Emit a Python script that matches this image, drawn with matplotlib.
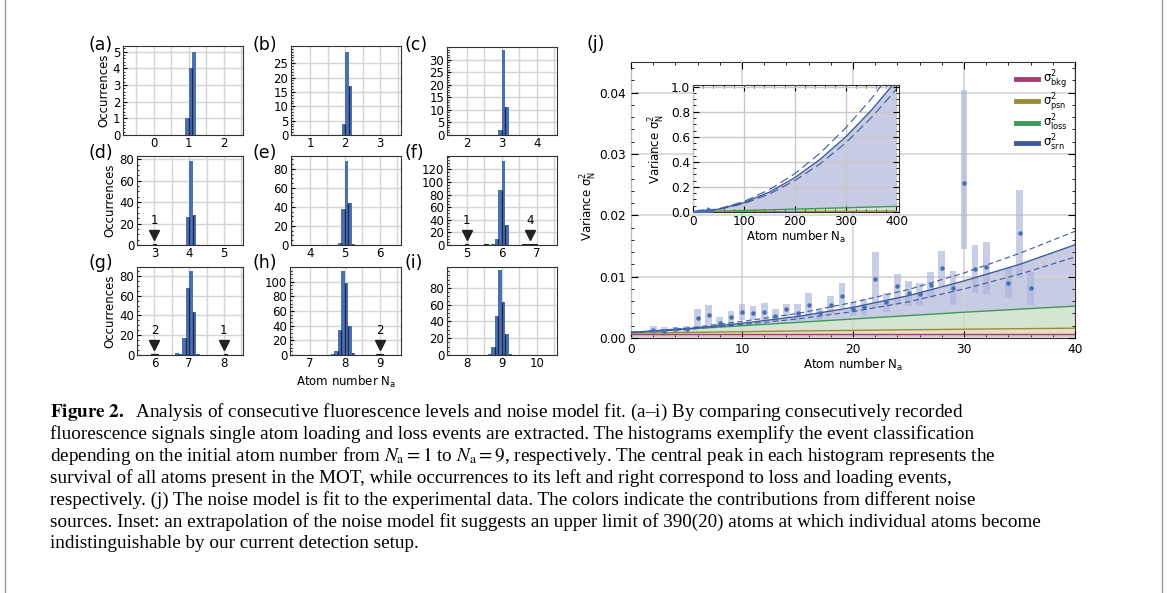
import numpy as np
import matplotlib
matplotlib.use("Agg")
import matplotlib.pyplot as plt
import matplotlib.transforms as mtransforms
from matplotlib.ticker import AutoMinorLocator, MultipleLocator, FormatStrFormatter
from matplotlib.lines import Line2D

plt.rcParams['font.family'] = ['DejaVu Sans']
plt.rcParams['font.size'] = 8.5

# ---- histograms (a)-(i): left bin edges (width 0.1) and counts
bins_a = [0.9, 1.0, 1.1]
counts_a = [1, 4, 5]
bins_b = [1.9, 2.0, 2.1]
counts_b = [4, 29, 17]
bins_c = [2.9, 3.0, 3.1]
counts_c = [2, 34, 11]
bins_d = [3.9, 4.0, 4.1]
counts_d = [26, 78, 28]
bins_e = [4.8, 4.9, 5.0, 5.1, 5.2]
counts_e = [2, 38, 88, 44, 1]
bins_f = [5.7, 5.8, 5.9, 6.0, 6.1]
counts_f = [1, 10, 87, 133, 32]
bins_g = [6.6, 6.7, 6.8, 6.9, 7.0, 7.1, 7.2]
counts_g = [2, 1, 17, 68, 85, 43, 1]
bins_h = [7.6, 7.7, 7.8, 7.9, 8.0, 8.1, 8.2]
counts_h = [1, 5, 34, 115, 98, 40, 3]
bins_i = [8.6, 8.7, 8.8, 8.9, 9.0, 9.1, 9.2]
counts_i = [1, 9, 47, 101, 63, 25, 1]

# loss / loading events (bin centres, counts) and their labels
events_x = {"d": [3.0], "f": [5.0, 5.55, 6.62, 6.75, 6.85, 6.95],
            "g": [5.95, 6.05, 8.05], "h": [8.95, 9.05]}
events_n = {"d": [1], "f": [1, 1, 1, 1, 1, 1], "g": [1, 1, 1], "h": [1, 1]}
marks_x = {"d": [3.0], "f": [5.0, 6.82], "g": [6.0, 8.0], "h": [9.0]}
marks_lbl = {"d": ["1"], "f": ["1", "4"], "g": ["2", "1"], "h": ["2"]}

initial_n = [1, 2, 3, 4, 5, 6, 7, 8, 9]
panel_names = ["a", "b", "c", "d", "e", "f", "g", "h", "i"]

# ---- panel (j): measured variance (mean, lower, upper)
n_meas = [2, 3, 4, 5, 6, 7, 8, 9, 10, 11, 12, 13, 14, 15, 16, 17, 18, 19, 20,
          21, 22, 23, 24, 25, 26, 27, 28, 29, 30, 31, 32, 34, 35, 36]
var_mean = [0.0013, 0.0012, 0.0015, 0.0015, 0.0032, 0.0038, 0.0025, 0.0034,
            0.0042, 0.0041, 0.0043, 0.0036, 0.0047, 0.0040, 0.0054, 0.0040,
            0.0054, 0.0069, 0.0048, 0.0050, 0.0096, 0.0058, 0.0084, 0.0073,
            0.0071, 0.0086, 0.0114, 0.0081, 0.0252, 0.0112, 0.0115, 0.0089,
            0.0171, 0.0081]
var_lo = [0.0005, 0.0003, 0.0008, 0.0009, 0.0018, 0.0022, 0.0018, 0.0022,
          0.0030, 0.0030, 0.0030, 0.0027, 0.0034, 0.0027, 0.0035, 0.0030,
          0.0039, 0.0049, 0.0036, 0.0038, 0.0049, 0.0043, 0.0054, 0.0052,
          0.0053, 0.0065, 0.0084, 0.0054, 0.0145, 0.0073, 0.0072, 0.0065,
          0.0098, 0.0054]
var_hi = [0.0020, 0.0018, 0.0018, 0.0020, 0.0047, 0.0054, 0.0034, 0.0044,
          0.0055, 0.0052, 0.0057, 0.0047, 0.0056, 0.0055, 0.0073, 0.0046,
          0.0068, 0.0089, 0.0059, 0.0063, 0.0141, 0.0073, 0.0104, 0.0093,
          0.0089, 0.0108, 0.0142, 0.0110, 0.0405, 0.0151, 0.0157, 0.0114,
          0.0242, 0.0108]

# noise model
n_fit = [0, 5, 10, 15, 20, 25, 30, 35, 40]
bkg_fit = [0.00065, 0.00065, 0.00065, 0.00065, 0.00065, 0.00065, 0.00065, 0.00065, 0.00065]
psn_fit = [0.0008, 0.0009, 0.00103, 0.00114, 0.00124, 0.00134, 0.00143, 0.00152, 0.0016]
loss_fit = [0.0009, 0.00145, 0.0020, 0.00255, 0.0031, 0.00365, 0.0042, 0.0047, 0.0052]
srn_fit = [0.0009, 0.0015, 0.0024, 0.0035, 0.0050, 0.0069, 0.0093, 0.0120, 0.0152]
srn_hi = [0.0009, 0.0016, 0.0027, 0.0040, 0.0058, 0.0079, 0.0106, 0.0138, 0.0174]
srn_lo = [0.0009, 0.0014, 0.0022, 0.0031, 0.0043, 0.0059, 0.0080, 0.0104, 0.0132]

# noise model
n_ext = [0, 50, 100, 150, 200, 250, 300, 350, 400]
bkg_ext = [0.00065, 0.00065, 0.00065, 0.00065, 0.00065, 0.00065, 0.00065, 0.00065, 0.00065]
psn_ext = [0.0008, 0.0018, 0.0027, 0.0035, 0.0043, 0.0050, 0.0057, 0.0064, 0.0070]
loss_ext = [0.0009, 0.0063, 0.0118, 0.0173, 0.0228, 0.0283, 0.0338, 0.0393, 0.0448]
srn_ext = [0.001, 0.022, 0.074, 0.158, 0.273, 0.42, 0.598, 0.808, 1.049]
srn_ext_hi = [0.001, 0.025, 0.083, 0.178, 0.305, 0.47, 0.67, 0.90, 1.17]
srn_ext_lo = [0.001, 0.019, 0.067, 0.143, 0.25, 0.385, 0.55, 0.75, 0.98]

legend_labels = [r'σ$^2_{\mathrm{bkg}}$', r'σ$^2_{\mathrm{psn}}$',
                 r'σ$^2_{\mathrm{loss}}$', r'σ$^2_{\mathrm{srn}}$']

caption = [
    r'$\mathbf{Figure\ 2.}$  Analysis of consecutive fluorescence levels and noise model fit. (a–i) By comparing consecutively recorded',
    'fluorescence signals single atom loading and loss events are extracted. The histograms exemplify the event classification',
    r'depending on the initial atom number from $N_{\mathrm{a}}=1$ to $N_{\mathrm{a}}=9$, respectively. The central peak in each histogram represents the',
    'survival of all atoms present in the MOT, while occurrences to its left and right correspond to loss and loading events,',
    'respectively. (j) The noise model is fit to the experimental data. The colors indicate the contributions from different noise',
    'sources. Inset: an extrapolation of the noise model fit suggests an upper limit of 390(20) atoms at which individual atoms become',
    'indistinguishable by our current detection setup.',
]

# colours
bar_col = '#4c70b4'
seam_col = '#1b2847'
c_bkg, c_psn, c_loss, c_srn = '#a03f6f', '#9a8b3b', '#3d9a55', '#3d5a9a'
f_bkg, f_psn, f_loss, f_srn = '#dec6d6', '#e7e0c4', '#d4e5d2', '#c7cbe4'
box_col = '#a9b5da'
grid_col = '#d4d4d4'

W, H = 1167, 593
fig = plt.figure(figsize=(W / 100, H / 100), dpi=100)


def px_axes(x0, y0, x1, y1):
    return fig.add_axes([x0 / W, 1 - y1 / H, (x1 - x0) / W, (y1 - y0) / H])


hist_bins = [bins_a, bins_b, bins_c, bins_d, bins_e, bins_f, bins_g, bins_h, bins_i]
hist_counts = [counts_a, counts_b, counts_c, counts_d, counts_e, counts_f, counts_g, counts_h, counts_i]
hist_rects = [(123, 46, 243, 135), (291, 46, 401, 135), (447, 47, 557, 135),
              (137, 156, 243, 245), (291, 156, 401, 245), (447, 156, 557, 245),
              (137, 267, 243, 355), (290, 267, 401, 355), (447, 267, 557, 355)]
hist_xlim = [(-0.88, 2.55), (0.45, 3.6), (1.44, 4.58), (2.5, 5.55), (3.46, 6.6),
             (4.44, 7.58), (5.5, 8.55), (6.43, 9.6), (7.44, 10.58)]
hist_ymax = [5.34, 31, 35, 83, 93.5, 141, 89, 120, 105]
hist_ystep = [1, 5, 5, 20, 20, 20, 20, 20, 20]
hist_ytop = [5, 25, 30, 80, 80, 120, 80, 100, 80]
label_xy = [(88, 45), (252, 45), (405, 45), (88, 153), (252, 153), (405, 153),
            (88, 263), (252, 263), (405, 263)]

for k in range(9):
    ax = px_axes(*hist_rects[k])
    name = panel_names[k]
    b = np.array(hist_bins[k])
    c = np.array(hist_counts[k])
    ax.bar(b, c, width=0.1, align='edge', color=bar_col, zorder=2)
    ax.vlines(b[1:], 0, np.minimum(c[1:], c[:-1]), color=seam_col, lw=1.0, zorder=3)
    if name in events_x:
        ax.bar(events_x[name], events_n[name], width=0.1, color='#222222',
               edgecolor='#222222', lw=0.8, zorder=3)
        tr = mtransforms.blended_transform_factory(ax.transData, ax.transAxes)
        for x, lbl in zip(marks_x[name], marks_lbl[name]):
            ax.plot(x, 0.11, 'v', ms=7, color='#222222', transform=tr, zorder=4, clip_on=False)
            ax.text(x, 0.28, lbl, ha='center', va='center', transform=tr, fontsize=8.5)
    n0 = initial_n[k]
    ax.set_xlim(*hist_xlim[k])
    ax.set_xticks([n0 - 1, n0, n0 + 1])
    ax.xaxis.set_minor_locator(MultipleLocator(0.5))
    ax.set_yticks(np.arange(0, hist_ytop[k] + 0.1, hist_ystep[k]))
    ax.yaxis.set_minor_locator(AutoMinorLocator())
    ax.set_ylim(0, hist_ymax[k])
    ax.grid(True, which='major', color=grid_col, lw=1.0, zorder=0)
    ax.grid(True, which='minor', axis='x', color=grid_col, lw=1.0, zorder=0)
    ax.set_axisbelow(True)
    ax.tick_params(axis='x', which='both', length=0, pad=1.5)
    ax.tick_params(axis='y', which='major', direction='in', length=3, pad=2)
    ax.tick_params(axis='y', which='minor', direction='in', length=1.5)
    for s in ax.spines.values():
        s.set_color('#333333')
        s.set_linewidth(0.8)
    if k % 3 == 0:
        ax.set_ylabel('Occurrences', labelpad=2)
    if k == 7:
        ax.set_xlabel(r'Atom number N$_{\mathrm{a}}$', labelpad=3)
    fig.text(label_xy[k][0] / W, 1 - label_xy[k][1] / H, '(%s)' % name,
             fontsize=12.5, ha='left', va='center')

# ---- panel (j)
axj = px_axes(631, 62, 1075, 338)
axj.fill_between(n_fit, 0, bkg_fit, color=f_bkg, lw=0, zorder=1)
axj.fill_between(n_fit, bkg_fit, psn_fit, color=f_psn, lw=0, zorder=1)
axj.fill_between(n_fit, psn_fit, loss_fit, color=f_loss, lw=0, zorder=1)
axj.fill_between(n_fit, loss_fit, srn_fit, color=f_srn, lw=0, zorder=1)
axj.bar(n_meas, np.array(var_hi) - np.array(var_lo), bottom=var_lo, width=0.6,
        color=box_col, alpha=0.65, zorder=3)
axj.plot(n_meas, var_mean, 'o', ms=2.2, color='#4a6cb0', zorder=5)
axj.plot(n_fit, bkg_fit, color=c_bkg, lw=1.0, zorder=4)
axj.plot(n_fit, psn_fit, color=c_psn, lw=1.0, zorder=4)
axj.plot(n_fit, loss_fit, color=c_loss, lw=1.0, zorder=4)
axj.plot(n_fit, srn_fit, color=c_srn, lw=1.0, zorder=4)
axj.plot(n_fit, srn_hi, color=c_srn, lw=0.8, dashes=(5, 3), zorder=4)
axj.plot(n_fit, srn_lo, color=c_srn, lw=0.8, dashes=(5, 3), zorder=4)
axj.set_xlim(0, 40)
axj.set_ylim(0, 0.045)
axj.xaxis.set_major_locator(MultipleLocator(10))
axj.xaxis.set_minor_locator(MultipleLocator(2))
axj.yaxis.set_major_locator(MultipleLocator(0.01))
axj.yaxis.set_minor_locator(MultipleLocator(0.002))
axj.yaxis.set_major_formatter(FormatStrFormatter('%.2f'))
axj.grid(True, which='major', color=grid_col, lw=1.2, zorder=2)
axj.set_axisbelow(False)
axj.tick_params(which='both', direction='in', top=True, right=True, labelsize=8.7)
axj.tick_params(which='major', length=5)
axj.tick_params(which='minor', length=2.5)
axj.set_xlabel(r'Atom number N$_{\mathrm{a}}$', labelpad=1)
axj.set_ylabel(r'Variance σ$^2_{\mathrm{N}}$')
axj.yaxis.set_label_coords(-0.072, 0.48)
for s in axj.spines.values():
    s.set_color('#333333')
    s.set_linewidth(0.8)
handles = [Line2D([], [], color=cc, lw=3.5) for cc in (c_bkg, c_psn, c_loss, c_srn)]
axj.legend(handles, legend_labels, loc='upper right', frameon=False, fontsize=8.4,
           handlelength=1.9, handletextpad=0.4, labelspacing=0.0,
           borderaxespad=0.2, bbox_to_anchor=(1.0, 1.0))
fig.text(587 / W, 1 - 44 / H, '(j)', fontsize=12.5, ha='left', va='center')

# ---- inset
axi = px_axes(693, 85, 899, 212)
axi.fill_between(n_ext, 0, bkg_ext, color=f_bkg, lw=0, zorder=1)
axi.fill_between(n_ext, bkg_ext, psn_ext, color=f_psn, lw=0, zorder=1)
axi.fill_between(n_ext, psn_ext, loss_ext, color=f_loss, lw=0, zorder=1)
axi.fill_between(n_ext, loss_ext, srn_ext, color=f_srn, lw=0, zorder=1)
axi.bar(n_meas, np.array(var_hi) - np.array(var_lo), bottom=var_lo, width=3,
        color=box_col, alpha=0.65, zorder=3)
axi.plot(n_meas, var_mean, 'o', ms=1.5, color='#4a6cb0', zorder=5)
axi.plot(n_ext, loss_ext, color=c_loss, lw=1.0, zorder=4)
axi.plot(n_ext, psn_ext, color=c_psn, lw=1.0, zorder=4)
axi.plot(n_ext, srn_ext, color=c_srn, lw=1.0, zorder=4)
axi.plot(n_ext, srn_ext_hi, color=c_srn, lw=0.8, dashes=(8, 4), zorder=4)
axi.plot(n_ext, srn_ext_lo, color=c_srn, lw=0.8, dashes=(8, 4), zorder=4)
axi.set_xlim(0, 405)
axi.set_ylim(0, 1.013)
axi.xaxis.set_major_locator(MultipleLocator(100))
axi.xaxis.set_minor_locator(MultipleLocator(20))
axi.yaxis.set_major_locator(MultipleLocator(0.2))
axi.yaxis.set_minor_locator(MultipleLocator(0.05))
axi.yaxis.set_major_formatter(FormatStrFormatter('%.1f'))
axi.grid(True, which='major', color='#c8c8c8', lw=1.0, zorder=2)
axi.set_axisbelow(False)
axi.tick_params(which='both', direction='in', top=True, right=True, labelsize=8.7, pad=2)
axi.tick_params(which='major', length=4)
axi.tick_params(which='minor', length=2)
axi.set_xlabel(r'Atom number N$_{\mathrm{a}}$', labelpad=1)
axi.set_ylabel(r'Variance σ$^2_{\mathrm{N}}$')
axi.yaxis.set_label_coords(-0.126, 0.5)
for s in axi.spines.values():
    s.set_color('#333333')
    s.set_linewidth(0.8)

# ---- caption
for i, line in enumerate(caption):
    fig.text(50 / W, 1 - (412 + 22 * i) / H, line, ha='left', va='center',
             family='Liberation Serif', fontsize=13.8, math_fontfamily='stix')

fig.add_artist(Line2D([5 / W, 5 / W], [0, 1], color='#9a9a9a', lw=1.0))
fig.add_artist(Line2D([1162 / W, 1162 / W], [0, 1], color='#9a9a9a', lw=1.0))

fig.savefig('out.png', dpi=100)
